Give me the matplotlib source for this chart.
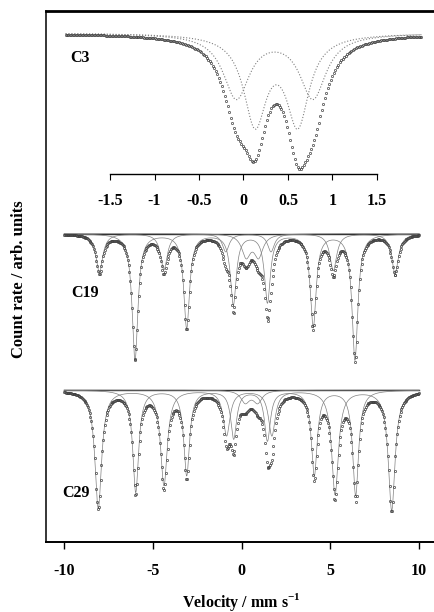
import numpy as np
import matplotlib
matplotlib.use("Agg")
import matplotlib.pyplot as plt

plt.rcParams['font.family'] = ['Liberation Serif', 'DejaVu Serif']
plt.rcParams['font.weight'] = 'bold'
plt.rcParams['axes.unicode_minus'] = False
plt.rcParams['mathtext.fontset'] = 'custom'
plt.rcParams['mathtext.rm'] = 'Liberation Serif:bold'
plt.rcParams['mathtext.bf'] = 'Liberation Serif:bold'

# baselines of the stacked spectra (arb. units)
baselines = {'C3': 579, 'C19': 378.5, 'C29': 222}

# C3 : two doublets, velocity range -2..2 mm/s
c3_doublet_a = [-0.08, 0.78]
c3_depth_a = 64
c3_width_a = 0.18
c3_doublet_b = [0.13, 0.61]
c3_depth_b = 88
c3_width_b = 0.155

# C19 : two sextets + central doublet
c19_sext_a = [-8.02, -4.38, -0.90, 1.65, 5.16, 8.64]
c19_depth_a = [39, 36, 18, 18, 37, 40]
c19_sext_b = [-6.01, -3.10, -0.47, 1.45, 4.03, 6.38]
c19_depth_b = [126, 94, 70, 68, 93, 126]
c19_doublet = [0.25, 0.95]
c19_depth_d = [22, 22]

# C29 : two sextets + small central doublet
c29_sext_a = [-8.08, -4.38, -0.85, 1.70, 5.26, 8.45]
c29_depth_a = [118, 95, 45, 45, 104, 120]
c29_sext_b = [-5.97, -3.10, -0.45, 1.45, 4.09, 6.42]
c29_depth_b = [102, 85, 48, 50, 85, 105]
c29_doublet = [0.2, 0.9]
c29_depth_d = [12, 12]


def lorentz(v, pos, depth, w):
    out = np.zeros_like(v)
    depth = np.broadcast_to(depth, (len(pos),))
    for c, d in zip(pos, depth):
        out += d / (1 + ((v - c) / w) ** 2)
    return out


fig = plt.figure(figsize=(4.35, 6.12), dpi=100)
W, H = 435.0, 612.0
left_px, right_px, top_px, bot_px = 46, 435, 10.7, 541.7
pos = [left_px / W, 1 - bot_px / H, (right_px - left_px) / W, (bot_px - top_px) / H]
ylim = (H - bot_px, H - top_px)

ax = fig.add_axes(pos)
ax.set_xlim((left_px - 241.7) / 17.75, (right_px - 241.7) / 17.75)
ax.set_ylim(*ylim)

# inner axes for the narrow C3 velocity scale
ax3 = fig.add_axes(pos)
ax3.patch.set_alpha(0)
ax3.set_xlim((left_px - 243.5) / 89, (right_px - 243.5) / 89)
ax3.set_ylim(*ylim)

mk = dict(ls='none', marker='o', ms=1.6, mfc='none', mec='0.25', mew=0.5)

# C3
v3 = np.linspace(-2.0, 2.0, 240)
b = baselines['C3']
da = lorentz(v3, c3_doublet_a, c3_depth_a, c3_width_a)
db = lorentz(v3, c3_doublet_b, c3_depth_b, c3_width_b)
ax3.plot(v3, b - da, ':', color='0.5', lw=0.8)
ax3.plot(v3, b - db, ':', color='0.5', lw=0.8)
ax3.plot(v3, b - da - db, **mk)

# C19 and C29
v = np.linspace(-10, 10, 420)
vf = np.linspace(-10, 10, 2000)
for name, sa, dpa, sb, dpb, dd, dpd in [
        ('C19', c19_sext_a, c19_depth_a, c19_sext_b, c19_depth_b, c19_doublet, c19_depth_d),
        ('C29', c29_sext_a, c29_depth_a, c29_sext_b, c29_depth_b, c29_doublet, c29_depth_d)]:
    b = baselines[name]
    comps = [(sa, dpa, 0.23), (sb, dpb, 0.2), (dd, dpd, 0.3)]
    ax.plot([-10, 10], [b, b], color='0.2', lw=1.0)
    for p, d, w in comps:
        ax.plot(vf, b - lorentz(vf, p, d, w), color='0.5', lw=0.5)
    total = sum(lorentz(v, p, d, w) for p, d, w in comps)
    ax.plot(v, b - total, **mk)

# sample labels
ax.text(-9.11, 554, 'C3', fontsize=11.5, fontweight='bold', ha='center', va='center')
ax.text(-8.83, 319, 'C19', fontsize=11.5, fontweight='bold', ha='center', va='center')
ax.text(-9.34, 119, 'C29', fontsize=11.5, fontweight='bold', ha='center', va='center')

# main axes styling
ax.spines['right'].set_visible(False)
ax.spines['top'].set_linewidth(2.0)
ax.spines['left'].set_linewidth(1.1)
ax.spines['bottom'].set_linewidth(1.4)
ax.set_yticks([])
ax.set_xticks([-10, -5, 0, 5, 10])
ax.tick_params(axis='x', direction='out', length=5, width=1.0, pad=10, labelsize=11.5)

# C3 scale
for s in ['top', 'right', 'left']:
    ax3.spines[s].set_visible(False)
ax3.spines['bottom'].set_position(('data', H - 173.5))
ax3.spines['bottom'].set_bounds(-1.5, 1.5)
ax3.spines['bottom'].set_linewidth(1.0)
ax3.set_yticks([])
ax3.set_xticks([-1.5, -1, -0.5, 0, 0.5, 1, 1.5])
ax3.set_xticklabels(['-1.5', '-1', '-0.5', '0', '0.5', '1', '1.5'])
ax3.tick_params(axis='x', direction='out', length=4, width=0.8, pad=10, labelsize=11.5)

fig.text(241.7 / W, 1 - 601.7 / H, r'Velocity / mm s$^{\mathbf{-1}}$', fontsize=11.5,
         fontweight='bold', ha='center', va='center')
fig.text(19 / W, 1 - 279 / H, 'Count rate / arb. units', fontsize=12, fontweight='bold',
         rotation=90, ha='center', va='center')

fig.savefig('out.png', dpi=100)
